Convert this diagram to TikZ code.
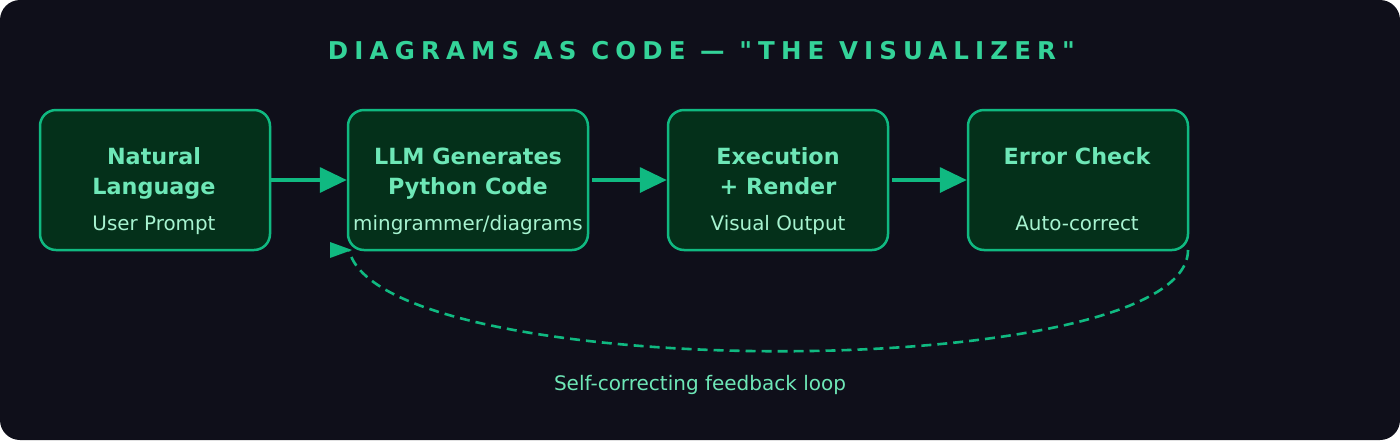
\documentclass[tikz,border=0pt]{standalone}
\usepackage{fontspec}
\setmainfont{DejaVu Sans}
\newfontfamily\titlefont[LetterSpace=25]{DejaVu Sans}
\usetikzlibrary{arrows.meta}
\definecolor{bgc}{HTML}{0F0F1A}
\definecolor{boxfill}{HTML}{04301A}
\definecolor{accent}{HTML}{10B981}
\definecolor{titlec}{HTML}{34D399}
\definecolor{headc}{HTML}{6EE7B7}
\definecolor{subc}{HTML}{A7F3D0}
\tikzset{
  stagebox/.style={draw=accent, fill=boxfill, line width=2.5pt, rounded corners=16pt,
    minimum height=140pt, inner sep=0pt},
  headtext/.style={anchor=base, text=headc, font=\fontsize{22.3}{26}\selectfont\bfseries, inner sep=0pt},
  subtext/.style={anchor=base, text=subc, font=\fontsize{19.9}{23}\selectfont, inner sep=0pt},
  flow/.style={draw=accent, line width=3.5pt, -{Triangle[length=27pt,width=25pt]}},
  loopline/.style={draw=accent, line width=2.6pt, dash pattern=on 10pt off 6pt},
}
\begin{document}
\begin{tikzpicture}[x=1pt, y=-1pt]
\useasboundingbox (0,0) rectangle (1400,440);
\fill[bgc, rounded corners=20pt] (0,0) rectangle (1400,440);

\node[anchor=base, text=titlec, inner sep=0pt, font=\titlefont\fontsize{24.5}{29}\selectfont\bfseries] (title) at (701.5,59) {DIAGRAMS AS CODE — "THE VISUALIZER"};

\node[stagebox, minimum width=230pt] (b1) at (155,180) {};
\node[stagebox, minimum width=240pt] (b2) at (468,180) {};
\node[stagebox, minimum width=220pt] (b3) at (778,180) {};
\node[stagebox, minimum width=220pt] (b4) at (1078,180) {};

\node[headtext] (b1h1) at (154,164) {Natural};
\node[headtext] (b1h2) at (154,194) {Language};
\node[subtext] (b1s) at (154,230) {User Prompt};

\node[headtext] (b2h1) at (468,164) {LLM Generates};
\node[headtext] (b2h2) at (468,194) {Python Code};
\node[subtext] (b2s) at (468,230) {mingrammer/diagrams};

\node[headtext] (b3h1) at (778,164) {Execution};
\node[headtext] (b3h2) at (778,194) {+ Render};
\node[subtext] (b3s) at (778,230) {Visual Output};

\node[headtext] (b4h1) at (1077,164) {Error Check};
\node[subtext] (b4s) at (1077,230) {Auto-correct};

\draw[flow] (b1.east) -- (b2.west);
\draw[flow] ([xshift=3pt]b2.east) -- (b3.west);
\draw[flow] ([xshift=3pt]b3.east) -- (b4.west);

\coordinate (loopstart) at (1188,250);
\coordinate (loopend) at (349,250);
\draw[loopline] (loopstart) .. controls (1188,385) and (380,385) .. (loopend);
\fill[accent] (loopend) ++(-19,-8) -- ++(22,8) -- ++(-22,8) -- cycle;

\node[anchor=base, text=headc, inner sep=0pt, font=\fontsize{20}{24}\selectfont] (looplabel) at (700,390) {Self-correcting feedback loop};
\end{tikzpicture}
\end{document}
